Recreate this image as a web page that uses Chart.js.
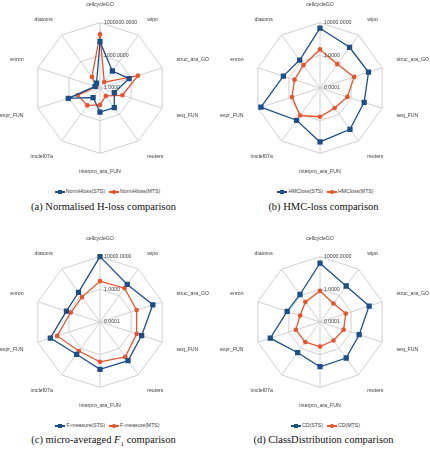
<!DOCTYPE html>
<html>
<head>
<meta charset="utf-8">
<script src="https://cdn.jsdelivr.net/npm/chart.js@4.4.1/dist/chart.umd.min.js"></script>
<style>
  body { margin: 0; background: #fff; }
  #page { position: relative; width: 430px; height: 452px; overflow: hidden; }
  .box { position: absolute; width: 218px; height: 176px; }
  .legend { position: absolute; width: 215px; text-align: center; font: 5.2px "Liberation Sans", Arial, sans-serif; color: #404040; white-space: nowrap; }
  .legend span.item { display: inline-block; margin: 0 2px; vertical-align: middle; }
  .sw { display: inline-block; position: relative; width: 10px; height: 6px; vertical-align: middle; margin-right: 1px; }
  .sw::before { content: ''; position: absolute; left: 0; right: 0; top: 2.4px; height: 1.3px; }
  .sw::after { content: ''; position: absolute; }
  .sts::before { background: #1b4f8a; }
  .sts::after { background: #1b4f8a; width: 4px; height: 4px; left: 3px; top: 1px; }
  .mts::before { background: #e8552d; }
  .mts::after { background: #e8552d; width: 3.4px; height: 3.4px; left: 3.3px; top: 1.3px; border-radius: 50%; }
  .caption { position: absolute; width: 215px; text-align: center; font: 10.5px "Liberation Serif", "Times New Roman", serif; color: #111; white-space: nowrap; }
</style>
</head>
<body>
<div id="page">
  <div class="box" style="left:-4px;top:1px"><canvas id="chartA" width="218" height="176"></canvas></div>
  <div class="box" style="left:216px;top:1px"><canvas id="chartB" width="218" height="176"></canvas></div>
  <div class="box" style="left:-4px;top:235px"><canvas id="chartC" width="218" height="176"></canvas></div>
  <div class="box" style="left:216px;top:235px"><canvas id="chartD" width="218" height="176"></canvas></div>

  <div class="legend" style="left:0;top:188px"><span class="item"><span class="sw sts"></span>NormHloss(STS)</span><span class="item"><span class="sw mts"></span>NormHloss(MTS)</span></div>
  <div class="legend" style="left:218px;top:188px"><span class="item"><span class="sw sts"></span>HMCloss(STS)</span><span class="item"><span class="sw mts"></span>HMCloss(MTS)</span></div>
  <div class="legend" style="left:0;top:422px"><span class="item"><span class="sw sts"></span>F-measure(STS)</span><span class="item"><span class="sw mts"></span>F-measure(MTS)</span></div>
  <div class="legend" style="left:218px;top:422px"><span class="item"><span class="sw sts"></span>CD(STS)</span><span class="item"><span class="sw mts"></span>CD(MTS)</span></div>

  <div class="caption" style="left:-4px;top:201px">(a) Normalised H-loss comparison</div>
  <div class="caption" style="left:216px;top:201px">(b) HMC-loss comparison</div>
  <div class="caption" style="left:-4px;top:434px">(c) micro-averaged <i>F</i><sub style="font-size:7px">1</sub> comparison</div>
  <div class="caption" style="left:216px;top:434px">(d) ClassDistribution comparison</div>
</div>
<script>
const categories = ['cellcycleGO', 'wipo', 'struc_ara_GO', 'seq_FUN', 'reuters',
  'interpro_ara_FUN', 'imclef07a', 'expr_FUN', 'enron', 'diatoms'];

// log-scale radar values
const normHlossSTS = [18000, 85, 650, 24, 170, 160, 12, 1150, 3, 3.5];
const normHlossMTS = [83000, 4.6, 4600, 145, 8, 36, 95, 145, 2.3, 18];
const normHlossTicks = [1, 1000, 1000000];

const hmcLossSTS = [2100, 145, 175, 48, 175, 400, 7.6, 4000, 5.2, 1.7];
const hmcLossMTS = [5.2, 0.4, 2.5, 0.33, 0.11, 0.33, 1.45, 0.4, 0.19, 0.28];

const fMeasureSTS = [10000, 48, 630, 23, 69, 63, 7.6, 250, 2.1, 3.0];
const fMeasureMTS = [10, 13, 5.2, 5.2, 19, 7.6, 2.5, 33, 0.58, 0.58];

const cdSTS = [1580, 28, 210, 11, 28, 30, 4.4, 250, 1.7, 1.45];
const cdMTS = [0.63, 0.063, 0.21, 0.11, 0.063, 0.1, 0.11, 0.13, 0.036, 0.11];

const lossTicks = [0.0001, 1, 10000];

const blue = '#1b4f8a';
const orange = '#e8552d';
const grid = '#d0d0d0';

// Chart.js has no log radial scale, so plot log10 values and label ticks back
const tickLabels = {
    id: 'tickLabels',
    afterDraw(chart) {
        const s = chart.scales.r;
        const ctx = chart.ctx;
        ctx.save();
        ctx.font = '5.2px "Liberation Sans", Arial, sans-serif';
        ctx.fillStyle = '#404040';
        ctx.textBaseline = 'middle';
        ctx.textAlign = 'left';
        s.ticks.forEach(t => {
            const d = s.getDistanceFromCenterForValue(t.value);
            ctx.fillText(t.label, s.xCenter + 4, s.yCenter - d);
        });
        ctx.restore();
    }
};

function radar(id, sts, mts, ticks) {
    const lo = Math.log10(ticks[0]);
    const hi = Math.log10(ticks[ticks.length - 1]);
    const step = Math.log10(ticks[1]) - lo;
    return new Chart(document.getElementById(id), {
        type: 'radar',
        data: {
            labels: categories,
            datasets: [{
                data: sts.map(v => Math.log10(v)),
                borderColor: blue,
                backgroundColor: blue,
                borderWidth: 1.3,
                pointStyle: 'rect',
                pointRadius: 2.8,
                fill: false,
            }, {
                data: mts.map(v => Math.log10(v)),
                borderColor: orange,
                backgroundColor: orange,
                borderWidth: 1.3,
                pointStyle: 'circle',
                pointRadius: 1.7,
                fill: false,
            }]
        },
        options: {
            responsive: false,
            animation: false,
            devicePixelRatio: 1,
            plugins: { legend: { display: false }, tooltip: { enabled: false } },
            scales: {
                r: {
                    min: lo,
                    max: hi,
                    ticks: {
                        display: false,
                        stepSize: step,
                        callback: v => Math.pow(10, v).toFixed(4)
                    },
                    grid: { color: grid, lineWidth: 1 },
                    angleLines: { color: grid, lineWidth: 1 },
                    pointLabels: {
                        padding: 15,
                        color: '#404040',
                        font: { family: '"Liberation Sans", Arial, sans-serif', size: 5.2 }
                    }
                }
            }
        },
        plugins: [tickLabels]
    });
}

radar('chartA', normHlossSTS, normHlossMTS, normHlossTicks);
radar('chartB', hmcLossSTS, hmcLossMTS, lossTicks);
radar('chartC', fMeasureSTS, fMeasureMTS, lossTicks);
radar('chartD', cdSTS, cdMTS, lossTicks);
</script>
</body>
</html>
